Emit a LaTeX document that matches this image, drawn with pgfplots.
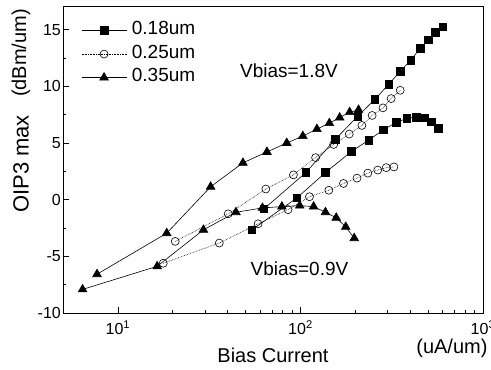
\documentclass[border=0pt]{standalone}
\usepackage{pgfplots}
\pgfplotsset{compat=1.18}
\usepackage{fontspec}
\setmainfont{Liberation Sans}
\begin{document}
\begin{tikzpicture}
\begin{axis}[
  clip mode=individual,
  xmode=log, xmin=5, xmax=1000, ymin=-10, ymax=17,
  width=420pt, height=306pt, scale only axis,
  axis line style={line width=1pt},
  tick align=inside, tick pos=left,
  xtick={10,100,1000},
  xticklabels={10\textsuperscript{1},10\textsuperscript{2},10\textsuperscript{3}},
  ytick={-10,-5,0,5,10,15}, minor y tick num=1,
  major tick length=6pt, minor tick length=3pt,
  every tick/.style={line width=0.8pt},
  tick label style={font=\fontsize{16}{19}\selectfont},
  /pgf/number format/assume math mode=true,
  yticklabel style={inner xsep=2pt},
  xticklabel style={yshift=-4pt},
  legend style={at={(axis description cs:0.043,0.962)}, anchor=north west,
    draw=none, fill=none, inner sep=0pt, row sep=0pt, column sep=3pt,
    font=\fontsize{19}{22}\selectfont,
    nodes={inner sep=2pt, text height=14pt, text depth=5.5pt},
    cells={anchor=west}},
  legend image code/.code={\draw[mark repeat=2,mark phase=2,#1] plot coordinates {(0pt,0pt) (22.5pt,0pt) (45pt,0pt)};},
]
% Vbias = 1.8 V
\addplot[black, line width=0.6pt, mark=square*, mark size=3.8pt] coordinates {
(63.0,-0.82) (107,2.39) (155,5.32) (206,7.37) (255,8.83) (305,10.2)
(352,11.32) (402,12.31) (453,13.36) (502,14.1) (549,14.76) (601,15.24)};
\addlegendentry{0.18um}
\addplot[black, line width=0.6pt, densely dotted, mark=o, mark size=4pt, mark options={solid, fill=white}] coordinates {
(20.6,-3.68) (40.2,-1.25) (64.6,0.94) (91.5,2.19) (121,3.71) (152,4.87)
(185,5.79) (217,6.55) (247,7.43) (283,8.10) (314,8.92) (352,9.65)};
\addlegendentry{0.25um}
\addplot[black, line width=0.6pt, mark=triangle*, mark size=5pt] coordinates {
(7.68,-6.58) (18.5,-2.96) (32.2,1.14) (48.4,3.25) (65.5,4.21) (84.1,5.0)
(103,5.61) (123,6.23) (144,6.75) (164,7.24) (186,7.72) (208,7.92)};
\addlegendentry{0.35um}
% Vbias = 0.9 V
\addplot[black, line width=0.6pt, mark=square*, mark size=3.8pt, forget plot] coordinates {
(54.2,-2.66) (95.5,0.15) (137,2.39) (190,4.25) (237,5.26) (285,6.17)
(335,6.82) (382,7.17) (430,7.28) (478,7.22) (520,6.87) (570,6.29)};
\addplot[black, line width=0.6pt, densely dotted, mark=o, mark size=4pt, mark options={solid, fill=white}, forget plot] coordinates {
(17.7,-5.61) (35.9,-3.83) (58.6,-2.13) (85.5,-0.88) (112,0.26) (143,0.83)
(172,1.43) (204,1.90) (234,2.34) (265,2.61) (295,2.83) (325,2.89)};
\addplot[black, line width=0.6pt, mark=triangle*, mark size=5pt, forget plot] coordinates {
(6.4,-7.92) (16.4,-5.88) (29.4,-2.66) (44.3,-1.11) (61.9,-0.73) (79.1,-0.61)
(99.1,-0.53) (118,-0.61) (137,-1.11) (157,-1.6) (177,-2.4) (197,-3.4)};
\node[font=\fontsize{19}{22}\selectfont] at (axis description cs:0.538,0.791) {Vbias=1.8V};
\node[font=\fontsize{19}{22}\selectfont] at (axis description cs:0.563,0.144) {Vbias=0.9V};
\node[font=\fontsize{20}{24}\selectfont] at (axis description cs:0.5,-0.137) {Bias Current};
\node[font=\fontsize{20}{24}\selectfont] at (axis description cs:0.926,-0.114) {(uA/um)};
\node[font=\fontsize{22}{26}\selectfont, rotate=90] at (axis description cs:-0.1,0.487) {OIP3 max};
\node[font=\fontsize{20}{24}\selectfont, rotate=90] at (axis description cs:-0.1,0.85) {(dBm/um)};
\coordinate (sw) at (axis description cs:0,0);
\coordinate (ne) at (axis description cs:1,1);
\end{axis}
\pgfresetboundingbox
\path ([shift={(-63pt,-57pt)}]sw) rectangle ([shift={(8pt,7pt)}]ne);
\end{tikzpicture}
\end{document}
